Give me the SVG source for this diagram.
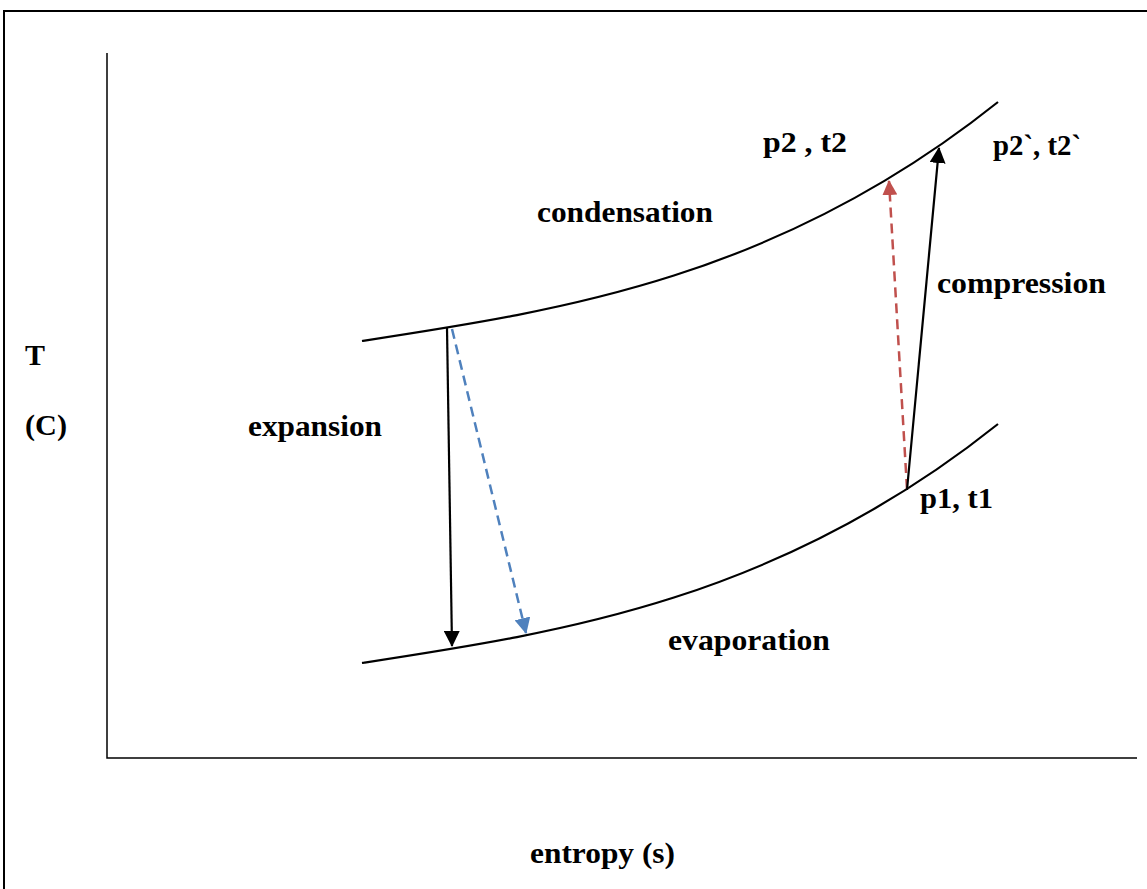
<svg xmlns="http://www.w3.org/2000/svg" width="1147" height="889" viewBox="0 0 1147 889">
<style>
.lbl{font-family:"Liberation Serif",serif;font-weight:700;fill:#000}
.ln{fill:none;stroke:#000;stroke-width:2.2}
.dash{fill:none;stroke-width:2.5;stroke-dasharray:10 6}
</style>
<defs>
<marker id="ah-k" viewBox="0 0 16 16" refX="15" refY="8" markerWidth="16" markerHeight="16" markerUnits="userSpaceOnUse" orient="auto"><path d="M0,0 L16,8 L0,16 z" fill="#000"/></marker>
<marker id="ah-b" viewBox="0 0 16 16" refX="15" refY="8" markerWidth="16" markerHeight="16" markerUnits="userSpaceOnUse" orient="auto"><path d="M0,0 L16,8 L0,16 z" fill="#4f81bd"/></marker>
<marker id="ah-r" viewBox="0 0 16 16" refX="15" refY="8" markerWidth="15" markerHeight="15" markerUnits="userSpaceOnUse" orient="auto"><path d="M0,0 L16,8 L0,16 z" fill="#c0504d"/></marker>
</defs>
<rect width="1147" height="889" fill="#fff"/>
<path d="M4,889 V11 H1147" fill="none" stroke="#000" stroke-width="2"/>
<g id="axes">
<path d="M107,53 V758 H1137" fill="none" stroke="#000" stroke-width="1.5"/>
</g>
<g id="condensation-curve">
<path class="ln" d="M362,341 C562,310.4 778,278 998,102"/>
</g>
<g id="evaporation-curve">
<path class="ln" d="M362,663 C562,632.4 778,600 998,424"/>
</g>
<g id="connectors">
<line class="ln" x1="447" y1="328" x2="452" y2="646" marker-end="url(#ah-k)"/>
<line class="dash" stroke="#4f81bd" x1="452" y1="329" x2="526" y2="633" marker-end="url(#ah-b)"/>
<line class="dash" stroke="#c0504d" x1="907" y1="489" x2="889" y2="181" marker-end="url(#ah-r)"/>
<line class="ln" x1="907" y1="490" x2="939" y2="148" marker-end="url(#ah-k)"/>
</g>
<g id="labels" font-size="29">
<text class="lbl" x="763" y="152" textLength="84" lengthAdjust="spacingAndGlyphs">p2 , t2</text>
<text class="lbl" x="993" y="155" textLength="88" lengthAdjust="spacingAndGlyphs">p2`, t2`</text>
<text class="lbl" x="537" y="222" textLength="176" lengthAdjust="spacingAndGlyphs">condensation</text>
<text class="lbl" x="937" y="293" textLength="169" lengthAdjust="spacingAndGlyphs">compression</text>
<text class="lbl" x="25" y="365" textLength="20" lengthAdjust="spacingAndGlyphs">T</text>
<text class="lbl" x="25" y="435" textLength="42" lengthAdjust="spacingAndGlyphs">(C)</text>
<text class="lbl" x="248" y="436" textLength="134" lengthAdjust="spacingAndGlyphs">expansion</text>
<text class="lbl" x="920" y="508" textLength="73" lengthAdjust="spacingAndGlyphs">p1, t1</text>
<text class="lbl" x="668" y="650" textLength="162" lengthAdjust="spacingAndGlyphs">evaporation</text>
<text class="lbl" x="530" y="863" textLength="145" lengthAdjust="spacingAndGlyphs">entropy (s)</text>
</g>
</svg>
